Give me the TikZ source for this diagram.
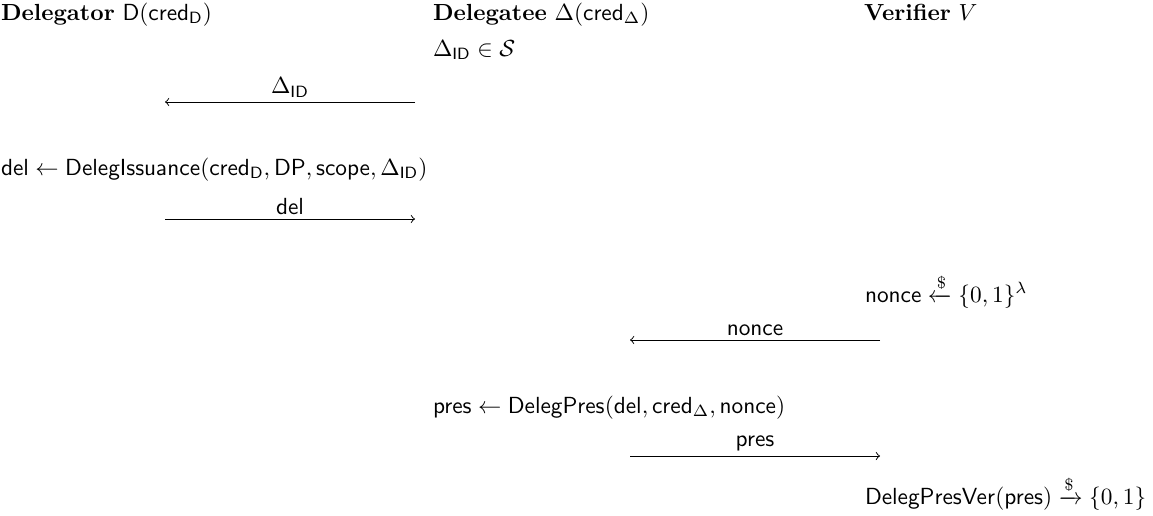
\documentclass[tikz,border=0pt]{standalone}
\usepackage{amsmath,amssymb}
\begin{document}
\begin{tikzpicture}[x=0.4292pt,y=-0.4292pt,
  txt/.style={anchor=base west,inner sep=0pt,outer sep=0pt},
  msg/.style={->,line width=0.4pt},
  lbl/.style={above,inner sep=1.8pt}]
\useasboundingbox (0,0) rectangle (1153,516);
% headers
\node[txt] (dlg) at (1,20) {\textbf{Delegator} $\mathsf{D}(\mathsf{cred}_{\mathsf{D}})$};
\node[txt] (dle) at (433,20) {\textbf{Delegatee} $\Delta(\mathsf{cred}_{\Delta})$};
\node[txt] (ver) at (864,20) {\textbf{Verifier} $V$};
% delegatee identifier
\node[txt] (sid) at (433,56) {$\Delta_{\mathsf{ID}}\in\mathcal{S}$};
% message 1
\coordinate (m1s) at (415,102);
\coordinate (m1e) at (165,102);
\draw[msg] (m1s) -- node[lbl] (l1) {$\Delta_{\mathsf{ID}}$} (m1e);
% issuance
\node[txt] (iss) at (1,175) {$\mathsf{del}\leftarrow\mathsf{DelegIssuance}(\mathsf{cred}_{\mathsf{D}},\mathsf{DP},\mathsf{scope},\Delta_{\mathsf{ID}})$};
% message 2
\coordinate (m2s) at (165,219);
\coordinate (m2e) at (415,219);
\draw[msg] (m2s) -- node[lbl] (l2) {$\mathsf{del}$} (m2e);
% nonce
\node[txt] (non) at (865,302) {$\mathsf{nonce}\xleftarrow{\$}\{0,1\}^{\lambda}$};
% message 3
\coordinate (m3s) at (880,340);
\coordinate (m3e) at (630,340);
\draw[msg] (m3s) -- node[lbl] (l3) {$\mathsf{nonce}$} (m3e);
% presentation
\node[txt] (prs) at (433,413) {$\mathsf{pres}\leftarrow\mathsf{DelegPres}(\mathsf{del},\mathsf{cred}_{\Delta},\mathsf{nonce})$};
% message 4
\coordinate (m4s) at (630,456);
\coordinate (m4e) at (880,456);
\draw[msg] (m4s) -- node[lbl] (l4) {$\mathsf{pres}$} (m4e);
% verification
\node[txt] (vfy) at (865,504) {$\mathsf{DelegPresVer}(\mathsf{pres})\xrightarrow{\$}\{0,1\}$};
\end{tikzpicture}
\end{document}
